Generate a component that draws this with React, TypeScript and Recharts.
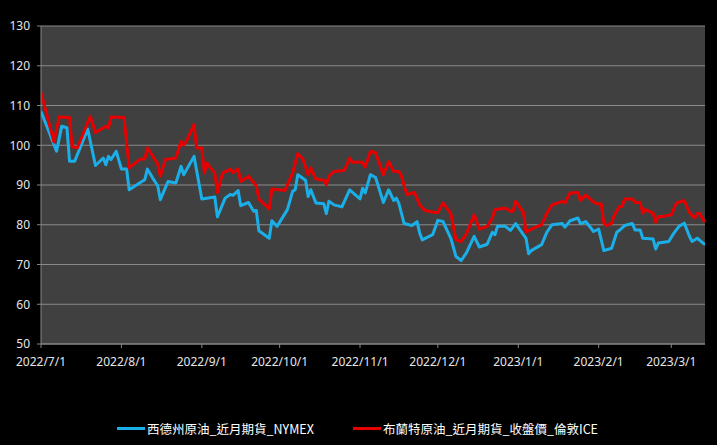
import { CartesianGrid, Line, LineChart, XAxis, YAxis } from "recharts";

// x values are days counted from 2022/7/1
const wtiName = "西德州原油_近月期貨_NYMEX";
const brentName = "布蘭特原油_近月期貨_收盤價_倫敦ICE";

const wtiDays = [
  0, 6, 8, 10, 11, 13, 18, 21, 24, 25, 26, 27, 29, 31, 33, 34, 38, 40, 41, 43,
  45, 46, 49, 52, 54, 55, 59, 62, 67, 68, 71, 73, 74, 76, 77, 80, 82, 83, 84, 88,
  89, 91, 95, 97, 98, 99, 102, 103, 104, 106, 109, 110, 111, 113, 116, 119, 123, 124, 125, 127,
  129, 132, 134, 136, 137, 138, 140, 143, 145, 146, 147, 151, 153, 155, 158, 160, 162, 164, 167, 169,
  172, 174, 175, 176, 179, 181, 183, 187, 188, 189, 193, 195, 197, 201, 202, 204, 207, 208, 210, 212,
  213, 215, 217, 220, 222, 223, 225, 228, 229, 231, 232, 236, 237, 238, 242, 244, 246, 248, 250, 251,
  253, 256,
];
const wtiPrices = [
  108.5, 98.5, 104.8, 104.4, 96, 96, 104.1, 94.9, 96.8, 95.1, 97.2, 96.4, 98.5, 94, 94, 88.8, 90.5, 91.3, 94, 91.8,
  89.8, 86.3, 90.9, 90.5, 94.7, 92.6, 97.2, 86.5, 87, 82, 86.7, 87.6, 87.4, 88.6, 84.8, 85.6, 83.4, 83.6, 78.5, 76.6,
  81, 79.6, 83.8, 88.4, 88.8, 92.6, 91.2, 87.1, 88.8, 85.5, 85.3, 82.8, 85.9, 85, 84.5, 88.8, 86.5, 89.2, 88, 92.6,
  91.9, 85.6, 88.8, 86.1, 86.7, 85.3, 80.3, 79.8, 80.8, 77.9, 76.2, 77.5, 81.1, 80.8, 76.6, 72, 71, 72.9, 77.1, 74.4,
  75.1, 78.1, 77.5, 79.6, 79.6, 78.6, 80.3, 76.6, 72.7, 73.5, 75, 78.1, 80, 80.3, 79.4, 81, 81.7, 80.3, 80.8, 79.2,
  78.3, 78.9, 73.5, 74.1, 78.1, 78.6, 79.8, 80.3, 78.7, 78.7, 76.6, 76.4, 73.9, 75.4, 75.8, 77.9, 79.6, 80.4, 77.1, 75.8,
  76.6, 75,
];

const brentDays = [
  0, 5, 7, 11, 12, 14, 19, 21, 25, 26, 27, 32, 34, 38, 40, 41, 45, 46, 48, 52,
  54, 55, 56, 59, 60, 62, 63, 64, 67, 68, 70, 73, 74, 76, 77, 80, 83, 84, 88, 89,
  94, 97, 99, 101, 103, 104, 106, 109, 110, 111, 113, 117, 119, 120, 124, 125, 127, 129, 132, 134,
  136, 138, 139, 141, 144, 146, 148, 152, 153, 155, 158, 160, 162, 164, 167, 169, 172, 174, 175, 179,
  181, 182, 183, 186, 187, 190, 193, 195, 197, 201, 202, 204, 207, 208, 210, 212, 214, 216, 217, 218,
  220, 221, 223, 224, 225, 228, 229, 231, 232, 233, 236, 237, 238, 240, 243, 245, 248, 250, 252, 253,
  254, 256,
];
const brentPrices = [
  113.3, 100.8, 107.1, 107, 99.7, 99.3, 107.3, 103.2, 104.8, 104.3, 107.1, 107, 94.3, 96.4, 96.6, 99.3, 95.3, 92.2, 96.4, 96.8,
  101, 100, 101, 105.2, 99.3, 99.3, 93, 95.5, 93, 88.1, 93, 94, 93.1, 94, 90.9, 92.2, 89.8, 86.5, 84, 89,
  88.6, 93, 97.9, 96.5, 92.6, 94.3, 91.5, 91.2, 90.1, 92.2, 93.4, 93.7, 96.8, 95.7, 95.7, 94.5, 98.5, 98.1, 92.6, 95.9,
  93.4, 93.4, 92.2, 87.6, 88.1, 85, 83.6, 83.1, 83.1, 85.5, 82.8, 76.2, 75.8, 77.7, 82.5, 78.9, 79.6, 81.7, 83.8, 84.2,
  83.4, 83.4, 85.9, 83.1, 78.1, 79.2, 80, 82.9, 85, 85.9, 85.5, 88, 88.1, 86.1, 87.5, 86.3, 85.3, 85.3, 80.4, 79.8,
  80.4, 82.3, 84.6, 84.6, 86.5, 86.5, 85.6, 85.6, 82.9, 83.8, 82.9, 80.6, 82.1, 82.1, 82.5, 85.5, 86.1, 83.1, 81.7, 82.8,
  82.8, 80.6,
];

const xTicks = [0, 31, 62, 92, 123, 153, 184, 215, 243];
const xTickLabels = [
  "2022/7/1", "2022/8/1", "2022/9/1", "2022/10/1", "2022/11/1",
  "2022/12/1", "2023/1/1", "2023/2/1", "2023/3/1",
];
const yTicks = [50, 60, 70, 80, 90, 100, 110, 120, 130];

const wtiData = wtiDays.map((d, i) => ({ day: d, price: wtiPrices[i] }));
const brentData = brentDays.map((d, i) => ({ day: d, price: brentPrices[i] }));

const WTI_COLOR = "#1aafe8";
const BRENT_COLOR = "#e60000";
const AXIS_COLOR = "#868686";
const tickStyle = { fill: "#e6e6e6", fontSize: 12, fontFamily: "Noto Sans" };

function LegendItem({ color, label, left }: { color: string; label: string; left: number }) {
  return (
    <div style={{ position: "absolute", left, top: 419, display: "flex", alignItems: "center", height: 18 }}>
      <div style={{ width: 28, height: 3, background: color, marginRight: 2 }} />
      <span style={{ color: "#ffffff", fontSize: 12.5, fontFamily: "'Noto Sans CJK TC', sans-serif", whiteSpace: "nowrap" }}>
        {label}
      </span>
    </div>
  );
}

export default function App() {
  return (
    <div style={{ position: "fixed", left: 0, top: 0, width: 717, height: 445, background: "#000000" }}>
      <LineChart width={717} height={445} data={wtiData} margin={{ top: 26, right: 12, bottom: 71, left: 0 }}>
        <CartesianGrid fill="#404040" stroke="#8a8a8a" vertical={false} />
        <XAxis
          dataKey="day"
          type="number"
          domain={[0, 256]}
          ticks={xTicks}
          tickFormatter={(v) => xTickLabels[xTicks.indexOf(v)] ?? ""}
          stroke={AXIS_COLOR}
          tick={tickStyle}
          tickSize={4}
          tickMargin={9}
          height={30}
          allowDataOverflow
        />
        <YAxis
          domain={[50, 130]}
          ticks={yTicks}
          stroke={AXIS_COLOR}
          tick={tickStyle}
          tickSize={4}
          tickMargin={7}
          width={41}
        />
        <Line
          data={wtiData}
          dataKey="price"
          name={wtiName}
          type="linear"
          stroke={WTI_COLOR}
          strokeWidth={3}
          strokeLinejoin="round"
          dot={false}
          isAnimationActive={false}
        />
        <Line
          data={brentData}
          dataKey="price"
          name={brentName}
          type="linear"
          stroke={BRENT_COLOR}
          strokeWidth={3}
          strokeLinejoin="round"
          dot={false}
          isAnimationActive={false}
        />
      </LineChart>
      <LegendItem color={WTI_COLOR} label={wtiName} left={117} />
      <LegendItem color={BRENT_COLOR} label={brentName} left={353} />
    </div>
  );
}
